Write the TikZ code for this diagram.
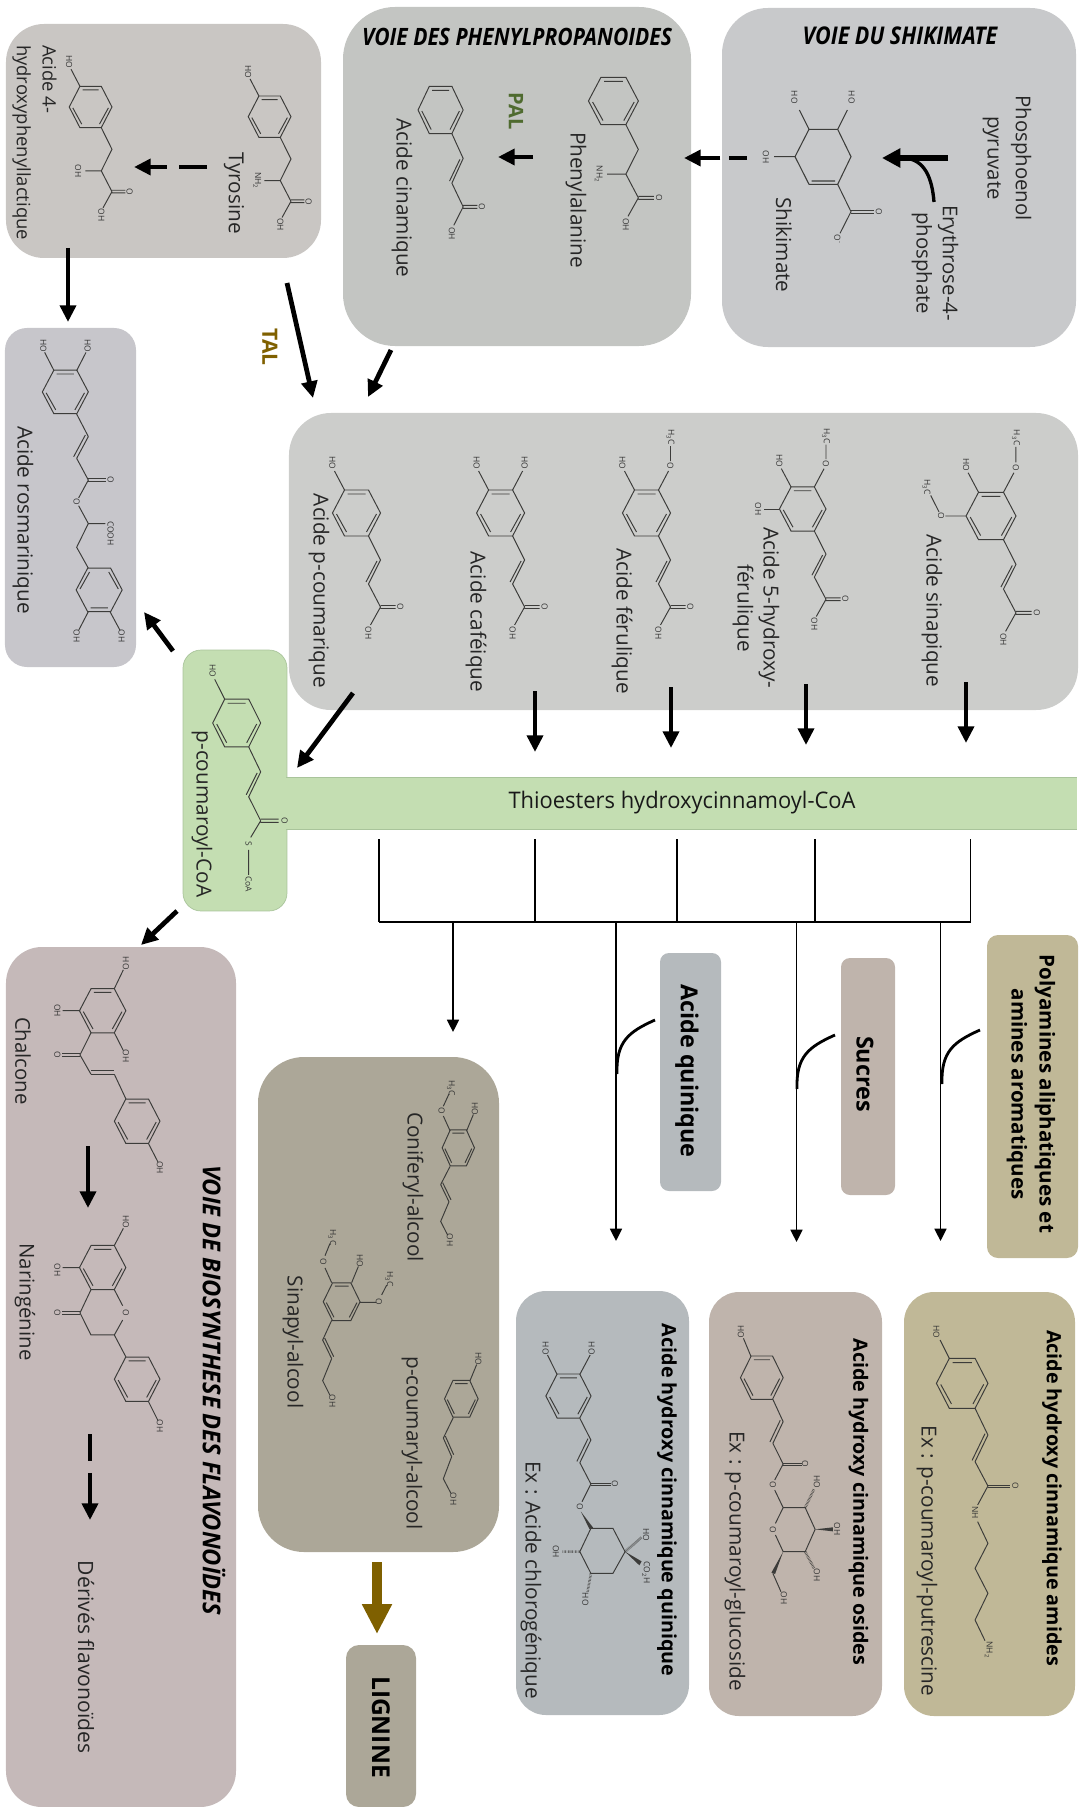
\documentclass[tikz,border=0pt]{standalone}
\usepackage{fontspec}
\setmainfont{Open Sans}
\newfontfamily\condf[FakeStretch=0.88]{Open Sans}
\newfontfamily\midf[FakeStretch=0.96]{Open Sans}
\usetikzlibrary{arrows.meta,calc}
\definecolor{pTyr}{HTML}{C9C6C3}
\definecolor{pPhe}{HTML}{C3C5C2}
\definecolor{pShi}{HTML}{C8C9CB}
\definecolor{pAci}{HTML}{CCCDCB}
\definecolor{pRos}{HTML}{C7C6CB}
\definecolor{pCoa}{HTML}{C4DEB2}
\definecolor{pCoaLine}{HTML}{A9C49B}
\definecolor{pFla}{HTML}{C5B9B9}
\definecolor{pLig}{HTML}{ACA798}
\definecolor{pQui}{HTML}{B5BABD}
\definecolor{pOsi}{HTML}{BFB4AC}
\definecolor{pAmi}{HTML}{C0B897}
\definecolor{cBrown}{HTML}{7F6000}
\definecolor{cGreen}{HTML}{4F6B2F}
\definecolor{cBond}{HTML}{3C3C3A}
\tikzset{
  panelbox/.style={rectangle,inner sep=0,outer sep=0,draw=none},
  lab/.style={rotate=-90,inner sep=0,align=center,text=black!85,font=\fontsize{11.8}{14.7}\selectfont},
  boldlab/.style={lab,text=black,font=\fontsize{11.2}{15}\selectfont\bfseries},
  taglab/.style={lab,text=black,font=\fontsize{13.3}{15}\selectfont\bfseries},
  condlab/.style={lab,font=\fontsize{11.6}{14}\selectfont},
  bigarrow/.style={line width=2.7pt,-{Triangle[length=9.5pt,width=9pt]}},
  thinarrow/.style={line width=1pt,-{Triangle[length=7pt,width=6.8pt]}},
  busline/.style={line width=1pt},
  curveline/.style={line width=1.6pt},
  bond/.style={line width=.55pt,draw=cBond},
  atomlab/.style={rotate=-90,inner sep=0,text=black!80,font=\fontsize{4.8}{5.5}\selectfont},
}
\newcount\atomno
\newcommand\atom[2]{\global\advance\atomno by 1\relax\node[atomlab] (atom\the\atomno) at (#1) {#2};}
\newcommand\lab[4][lab]{\node[#1] (#2) at (#3) {#4};}
\newcommand\panel[7]{%
  \pgfmathsetmacro\pw{(#4-#2)*0.02}\pgfmathsetmacro\ph{(#5-#3)*0.02}\pgfmathsetmacro\pr{#7*0.02}%
  \node[panelbox,fill=#6,rounded corners=\pr cm,minimum width=\pw cm,minimum height=\ph cm] (#1) at ({(#2+#4)/2},{(#3+#5)/2}) {};}
\newcommand\dbl[3]{\draw[bond] (#1)--(#2) ([shift={(#3)}]#1)--([shift={(#3)}]#2);}
\newcommand\hexring{%
  \draw[bond] (-12,-23)--(12,-23)--(24,0)--(12,23)--(-12,23)--(-24,0)--cycle;
  \draw[bond] (-9,-19)--(9,-19) (-20,1)--(-10,19) (20,1)--(10,19);}
\newcommand\hexat[4]{\begin{scope}[shift={(#1,#2)},xscale=#3,yscale=#4]\hexring\end{scope}}
\newcommand\hoTL{\draw[bond] (-12,-23)--(-22,-42); \atom{-24,-50}{HO}}
\newcommand\hoTR{\draw[bond] (12,-23)--(22,-42); \atom{24,-50}{HO}}
\newcommand\omeTR{\draw[bond] (12,-23)--(22,-42) (24,-52)--(24,-67); \atom{24,-47}{O}\atom{24,-76}{H\textsubscript{3}C}}
\newcommand\acidend{\draw[bond] (24,92.5)--(39,92.5) (24,95.5)--(39,95.5) (24,94)--(14,112); \atom{44,94}{O}\atom{12,120}{OH}}
\newcommand\enechain{\draw[bond] (12,23)--(24,47)--(12,71)--(24,94) (20.5,48)--(9.5,69);}
\newcommand\satchain[1]{\draw[bond] (12,23)--(24,47)--(12,71)--(24,94) (12,71)--(-6,71); \atom{-14,71}{#1}}
\begin{document}
\begin{tikzpicture}[x=0.02cm,y=-0.02cm]
\useasboundingbox (0,0) rectangle (1087,1807);
% ---------- panels
\panel{tyrbox}{6}{24}{321}{258}{pTyr}{38}
\panel{phebox}{343}{7}{691}{346}{pPhe}{52}
\panel{shibox}{722}{8}{1076}{347}{pShi}{46}
\panel{acibox}{289}{413}{1078}{710}{pAci}{42}
\panel{rosbox}{5}{328}{136}{667}{pRos}{22}
\node[panelbox,draw=pCoaLine,line width=.4pt,fill=pCoa,rounded corners=.36cm,minimum width=2.08cm,minimum height=5.22cm] (coabox) at (235,780.5) {};
\panel{thiobar}{286.5}{777}{1077}{829}{pCoa}{0}
\draw[pCoaLine,line width=.4pt] (thiobar.north west)--(thiobar.north east) (thiobar.south west)--(thiobar.south east);
\panel{flabox}{6}{947}{236}{1807}{pFla}{36}
\panel{ligbox}{258}{1057}{499}{1552}{pLig}{46}
\panel{lignine}{346}{1645}{416}{1807}{pLig}{13}
\panel{quibox}{516}{1291}{689}{1715}{pQui}{30}
\panel{osibox}{709}{1292}{882}{1716}{pOsi}{30}
\panel{amibox}{904}{1292}{1075}{1716}{pAmi}{30}
\panel{quitag}{660}{953}{721}{1191}{pQui}{9}
\panel{suctag}{841}{958}{895}{1195}{pOsi}{9}
\panel{polytag}{987}{935}{1078}{1258}{pAmi}{11}
% ---------- labels
\node[font=\fontsize{13.6}{15}\selectfont\condf\bfseries\itshape,inner sep=0] (titlephe) at (517,37) {VOIE DES PHENYLPROPANOIDES};
\node[font=\fontsize{13.9}{15}\selectfont\condf\bfseries\itshape,inner sep=0] (titleshi) at (900,36) {VOIE DU SHIKIMATE};
\node[rotate=-90,inner sep=0,font=\fontsize{14}{15}\selectfont\midf\bfseries\itshape] (titlefla) at (214,1390) {VOIE DE BIOSYNTHESE DES FLAVONOÏDES};
\node[inner sep=0,font=\fontsize{13}{15}\selectfont\midf,text=black!90] (thiotext) at (682,803) {Thioesters hydroxycinnamoyl-CoA};
\node[rotate=-90,inner sep=0,align=left,text=black!85,font=\fontsize{10.5}{14.7}\selectfont] (hpl) at (34.5,142.5) {Acide  4-\\hydroxyphenyllactique};
\lab{tyrlab}{234,193}{Tyrosine}
\lab{phelab}{576,200}{Phenylalanine}
\lab{cinlab}{402,198}{Acide cinamique}
\node[rotate=-90,inner sep=0,text=cGreen,font=\fontsize{11.4}{13}\selectfont\bfseries] (pallab) at (516,111) {PAL};
\node[rotate=-90,inner sep=0,text=cBrown,font=\fontsize{12}{14}\selectfont\bfseries] (tallab) at (270,347) {TAL};
\node[lab,font=\fontsize{11.6}{16}\selectfont] (peplab) at (1007,158) {Phosphoenol\\pyruvate};
\node[lab,font=\fontsize{11.6}{15}\selectfont] (e4plab) at (935,263) {Erythrose-4-\\phosphate};
\lab{shilab}{784,245}{Shikimate}
\lab{pclab}{319,591}{Acide p-coumarique}
\lab{caflab}{476,622}{Acide caféique}
\lab{ferlab}{622,621}{Acide férulique}
\lab{hfelab}{756,608}{Acide 5-hydroxy-\\férulique}
\lab{sinlab}{932,611}{Acide sinapique}
\lab{roslab}{23,520}{Acide rosmarinique}
\lab{coalab}{202,814}{p-coumaroyl-CoA}
\lab[condlab]{challab}{23,1061}{Chalcone}
\lab[condlab]{narlab}{25,1302}{Naringénine}
\node[lab,font=\fontsize{12}{14}\selectfont] (derlab) at (86,1657) {Dérivés  flavonoïdes};
\lab{conlab}{413,1187}{Coniferyl-alcool}
\lab{pcalab}{412,1443}{p-coumaryl-alcool}
\lab{sialab}{293,1342}{Sinapyl-alcool}
\node[lab,text=black,font=\fontsize{14}{16}\selectfont\bfseries] (liglab) at (381,1727) {LIGNINE};
\lab[boldlab]{quilab}{667,1500}{Acide hydroxy cinnamique quinique}
\lab{exqlab}{531,1580}{Ex : Acide chlorogénique}
\lab[boldlab]{osilab}{858.5,1502}{Acide hydroxy cinnamique osides}
\lab{exolab}{735,1561}{Ex : p-coumaroyl-glucoside}
\lab[boldlab]{amilab}{1052,1498}{Acide hydroxy cinnamique amides}
\lab{exalab}{927,1561}{Ex : p-coumaroyl-putrescine}
\lab[taglab]{qutag}{687,1071}{Acide quinique}
\lab[taglab]{sutag}{865,1074}{Sucres}
\node[lab,text=black,font=\fontsize{11.7}{16}\selectfont\bfseries] (potag) at (1031,1094) {Polyamines aliphatiques et\\amines  aromatiques};
% ---------- big arrows
\coordinate (a1s) at (948,158); \coordinate (a1e) at (882,158);
\draw[line width=3.2pt,-{Triangle[length=10.5pt,width=10.5pt]}] (a1s)--(a1e);
\coordinate (c1s) at (934,202); \coordinate (c1e) at (905,158);
\draw[curveline,line width=1.9pt] (c1s) .. controls (932,178) and (925,160) .. (c1e);
\coordinate (a2s) at (747,158); \coordinate (a2e) at (684,158);
\draw[bigarrow,dash pattern=on 10.2pt off 5pt on 20.5pt off 0pt] (a2s)--(a2e);
\coordinate (a3s) at (533,157); \coordinate (a3e) at (498,157);
\draw[bigarrow] (a3s)--(a3e);
\coordinate (a4s) at (207,167); \coordinate (a4e) at (134,167);
\draw[bigarrow,dash pattern=on 16pt off 7pt on 20pt off 0pt] (a4s)--(a4e);
\coordinate (a5s) at (68,248); \coordinate (a5e) at (68,322);
\draw[bigarrow] (a5s)--(a5e);
\coordinate (a6s) at (287,283); \coordinate (a6e) at (313,398);
\draw[bigarrow] (a6s)--(a6e);
\coordinate (a7s) at (391,350); \coordinate (a7e) at (368,397);
\draw[bigarrow] (a7s)--(a7e);
\coordinate (a8s) at (353,693); \coordinate (a8e) at (297,768);
\draw[bigarrow] (a8s)--(a8e);
\coordinate (a9s) at (535,691); \coordinate (a9e) at (535,752);
\draw[bigarrow] (a9s)--(a9e);
\coordinate (a10s) at (671,687); \coordinate (a10e) at (671,748);
\draw[bigarrow] (a10s)--(a10e);
\coordinate (a11s) at (806,684); \coordinate (a11e) at (806,745);
\draw[bigarrow] (a11s)--(a11e);
\coordinate (a12s) at (966,682); \coordinate (a12e) at (966,743);
\draw[bigarrow] (a12s)--(a12e);
\coordinate (a13s) at (173,651); \coordinate (a13e) at (144,612);
\draw[bigarrow] (a13s)--(a13e);
\coordinate (a14s) at (177,911); \coordinate (a14e) at (141,945);
\draw[bigarrow] (a14s)--(a14e);
\coordinate (a15s) at (88,1146); \coordinate (a15e) at (88,1208);
\draw[bigarrow] (a15s)--(a15e);
\coordinate (a16s) at (90,1434); \coordinate (a16e) at (90,1520);
\draw[bigarrow,dash pattern=on 15.3pt off 6.8pt on 27pt off 0pt] (a16s)--(a16e);
\coordinate (a17s) at (377,1562); \coordinate (a17e) at (377,1634);
\draw[cBrown,line width=5.2pt,-{Triangle[length=17pt,width=16pt]}] (a17s)--(a17e);
% ---------- bus
\coordinate (v1) at (379,839); \coordinate (v2) at (535,839); \coordinate (v3) at (677,839); \coordinate (v4) at (815,839); \coordinate (v5) at (970.5,839);
\coordinate (b1) at (379,922); \coordinate (b2) at (535,922); \coordinate (b3) at (677,922); \coordinate (b4) at (815,922); \coordinate (b5) at (970.5,922);
\draw[busline] (v1)--(b1) (v2)--(b2) (v3)--(b3) (v4)--(b4) (v5)--(b5);
\draw[line width=1.2pt] (b1)--(b5);
\coordinate (d1s) at (453,922); \coordinate (d1e) at (453,1032);
\coordinate (d2s) at (616,922); \coordinate (d2e) at (616,1241);
\coordinate (d3s) at (796.5,922); \coordinate (d3e) at (796.5,1242);
\coordinate (d4s) at (940.5,922); \coordinate (d4e) at (940.5,1241);
\draw[thinarrow] (d1s)--(d1e);
\draw[thinarrow] (d2s)--(d2e);
\draw[thinarrow] (d3s)--(d3e);
\draw[thinarrow] (d4s)--(d4e);
\coordinate (q1) at (655,1020); \coordinate (q2) at (617,1074);
\coordinate (s1) at (835,1035); \coordinate (s2) at (797,1089);
\coordinate (p1) at (980,1030); \coordinate (p2) at (942,1084);
\draw[curveline] (q1) .. controls (628,1032) and (616,1042) .. (q2);
\draw[curveline] (s1) .. controls (808,1047) and (796,1057) .. (s2);
\draw[curveline] (p1) .. controls (953,1042) and (941,1052) .. (p2);
% ---------- molecules with the common template
\begin{scope}[shift={(269.6,116.7)},xscale=.89,yscale=.9]\hexring\hoTL\satchain{NH\textsubscript{2}}\acidend\end{scope}
\begin{scope}[shift={(90.6,107)},xscale=.89,yscale=.9]\hexring\hoTL\satchain{OH}\acidend\end{scope}
\begin{scope}[shift={(613.4,101)},xscale=1.04,yscale=1.03]\hexring\satchain{NH\textsubscript{2}}\acidend\end{scope}
\begin{scope}[shift={(440.6,110)},xscale=.94,yscale=1.03]\hexring\enechain\acidend\end{scope}
\begin{scope}[shift={(356.5,513)}]\hexring\hoTL\enechain\acidend\end{scope}
\begin{scope}[shift={(500.6,513)}]\hexring\hoTL\hoTR\enechain\acidend\end{scope}
\begin{scope}[shift={(646.5,513)}]\hexring\hoTL\omeTR\enechain\acidend\end{scope}
\begin{scope}[shift={(802.7,509)},xscale=.97,yscale=.96]\hexring\hoTL\omeTR\enechain\acidend
  \draw[bond] (-24,0)--(-40,0); \atom{-46,0}{OH}\end{scope}
\begin{scope}[shift={(991,516)},xscale=1.04,yscale=1.03]\hexring\hoTL\omeTR\enechain\acidend
  \draw[bond] (-24,0)--(-44,0) (-50,-4)--(-58,-20); \atom{-48,0}{O}\atom{-62,-28}{H\textsubscript{3}C}\end{scope}
\begin{scope}[shift={(236.7,723)},yscale=1.04]\hexring\hoTL\enechain
  \draw[bond] (24,92.5)--(42,92.5) (24,95.5)--(42,95.5) (24,94)--(14,110) (12,122)--(12,146);
  \atom{48,94}{O}\atom{12,116}{S}\atom{12,155}{CoA}\end{scope}
% ---------- shikimate
\begin{scope}[shift={(680,0)},scale=1/3]
  \draw[bond,line width=.6pt] (387,388)--(473,388)--(513,470)--(473,553)--(387,553)--(345,470)--cycle (395,543)--(465,543);
  \draw[bond] (387,388)--(358,330) (473,388)--(502,330) (345,470)--(282,470) (473,553)--(513,635)--(480,700);
  \dbl{513,630}{582,630}{0,10}
  \atom{343,292}{HO}\atom{515,292}{HO}\atom{258,472}{OH}\atom{597,635}{O}\atom{472,718}{O\textsuperscript{-}}
\end{scope}
% ---------- rosmarinic acid
\begin{scope}[shift={(0,320)},xscale=1/3,yscale=1/2.53]
  \hexat{196}{182}{2.875}{2.39}
  \hexat{297.5}{683}{2.875}{-2.39}
  \draw[bond] (162,128)--(134,82) (230,128)--(258,82) (230,238)--(265,295) (230,350)--(265,405)--(236,450) (236,470)--(265,515)--(316,515) (265,515)--(230,575)--(265,628) (265,738)--(236,785) (330,738)--(360,785);
  \dbl{265,295}{230,350}{-9,-4}
  \dbl{265,402}{318,402}{0,7}
  \atom{130,65}{HO}\atom{263,65}{HO}\atom{332,405}{O}\atom{230,460}{O}\atom{332,540}{COOH}\atom{230,800}{OH}\atom{365,800}{OH}
\end{scope}
% ---------- chalcone, naringenin
\begin{scope}[shift={(0,940)},xscale=1/3,yscale=1/1.81]
  \hexat{308}{128}{2.9}{1.74}
  \hexat{411.5}{328}{2.85}{1.74}
  \draw[bond] (343,88)--(370,54) (240,128)--(188,128) (343,168)--(370,200) (273,168)--(240,208)--(273,243) (343,243)--(378,288) (445,368)--(474,402);
  \dbl{240,205}{186,205}{0,6}
  \dbl{273,243}{343,243}{0,-6}
  \atom{378,42}{HO}\atom{172,128}{OH}\atom{378,210}{OH}\atom{172,208}{O}\atom{480,412}{OH}
  \hexat{308}{593}{2.9}{1.74}
  \hexat{411.5}{795}{2.85}{1.74}
  \draw[bond] (343,553)--(370,522) (240,593)--(188,593) (273,633)--(240,675)--(273,715)--(343,715)--(368,688) (368,662)--(343,633) (343,715)--(378,755) (445,835)--(474,870);
  \dbl{240,672}{186,672}{0,6}
  \atom{378,510}{HO}\atom{172,598}{OH}\atom{172,675}{O}\atom{378,675}{O}\atom{480,880}{OH}
\end{scope}
% ---------- monolignols
\begin{scope}[shift={(250,1040)},xscale=1/3,yscale=1/2.04]
  \hexat{625}{220}{2.02}{1.59}
  \draw[bond] (650,185)--(670,152) (600,185)--(580,155) (580,135)--(597,110) (600,258)--(572,295) (597,330)--(572,370)--(593,398);
  \dbl{572,295}{597,330}{6,-4}
  \atom{675,140}{HO}\atom{575,145}{O}\atom{603,98}{H\textsubscript{3}C}\atom{600,408}{OH}
  \hexat{634}{732}{2.1}{1.63}
  \draw[bond] (660,695)--(680,662) (610,770)--(580,812) (605,850)--(580,895)--(603,925);
  \dbl{580,812}{605,850}{6,-4}
  \atom{685,650}{HO}\atom{610,937}{OH}
  \hexat{275}{534}{2.3}{1.67}
  \draw[bond] (305,495)--(325,462) (245,495)--(225,465) (225,440)--(240,415) (330,535)--(378,535) (395,520)--(410,500) (245,572)--(218,612) (245,650)--(218,695)--(240,725);
  \dbl{218,612}{245,650}{6,-4}
  \atom{330,450}{HO}\atom{220,452}{O}\atom{247,403}{H\textsubscript{3}C}\atom{387,533}{O}\atom{418,488}{H\textsubscript{3}C}\atom{247,737}{OH}
\end{scope}
% ---------- bottom molecules
\begin{scope}[shift={(510,1280)},xscale=1/2.72,yscale=1/3]
  % chlorogenic
  \hexat{159}{348}{2.56}{2.87}
  \draw[bond] (128,283)--(102,225) (190,283)--(218,225) (190,415)--(220,480) (190,548)--(220,612)--(196,665);
  \dbl{220,480}{190,548}{-8,-4}
  \dbl{220,609}{275,609}{0,7}
  \fill[cBond] (193,695)--(216,747)--(226,743)--cycle;
  \draw[bond] (220,745)--(280,745)--(313,815)--(280,880)--(220,880)--(190,815)--cycle;
  \draw[cBond,line width=1.5pt,dash pattern=on .25pt off .55pt] (313,815)--(358,772) (190,815)--(142,815) (220,880)--(211,935);
  \fill[cBond] (313,815)--(352,856)--(358,844)--cycle;
  \atom{97,205}{HO}\atom{222,205}{HO}\atom{285,612}{O}\atom{190,680}{O}\atom{370,765}{HO}\atom{370,878}{CO\textsubscript{2}H}\atom{125,815}{OH}\atom{205,958}{HO}
  % glucoside
  \hexat{685}{293}{2.42}{2.83}
  \draw[bond] (655,228)--(635,175) (715,358)--(743,425) (715,490)--(743,552)--(720,600) (720,630)--(743,683)--(803,683)--(830,748)--(803,815)--(743,815)--(722,765) (722,730)--(743,683) (715,880)--(737,935);
  \dbl{743,425}{715,490}{-8,-4}
  \dbl{743,549}{793,549}{0,7}
  \draw[cBond,line width=1.5pt,dash pattern=on .25pt off .55pt] (803,683)--(827,627) (803,815)--(827,865);
  \fill[cBond] (830,748)--(878,742)--(878,754)--cycle;
  \fill[cBond] (743,815)--(711,878)--(721,882)--cycle;
  \atom{628,155}{HO}\atom{803,552}{O}\atom{715,615}{O}\atom{715,748}{O}\atom{835,605}{HO}\atom{890,748}{OH}\atom{835,885}{OH}\atom{745,955}{OH}
  % amide
  \hexat{1230}{310}{2.92}{3.26}
  \draw[bond] (1195,235)--(1170,180) (1265,385)--(1300,465) (1265,545)--(1300,618)--(1272,675) (1272,725)--(1300,790)--(1265,865)--(1300,940)--(1265,1020)--(1292,1082);
  \dbl{1300,465}{1265,545}{-8,-4}
  \dbl{1300,615}{1360,615}{0,7}
  \atom{1160,155}{HO}\atom{1375,618}{O}\atom{1265,698}{NH}\atom{1302,1110}{NH\textsubscript{2}}
\end{scope}
\end{tikzpicture}
\end{document}
